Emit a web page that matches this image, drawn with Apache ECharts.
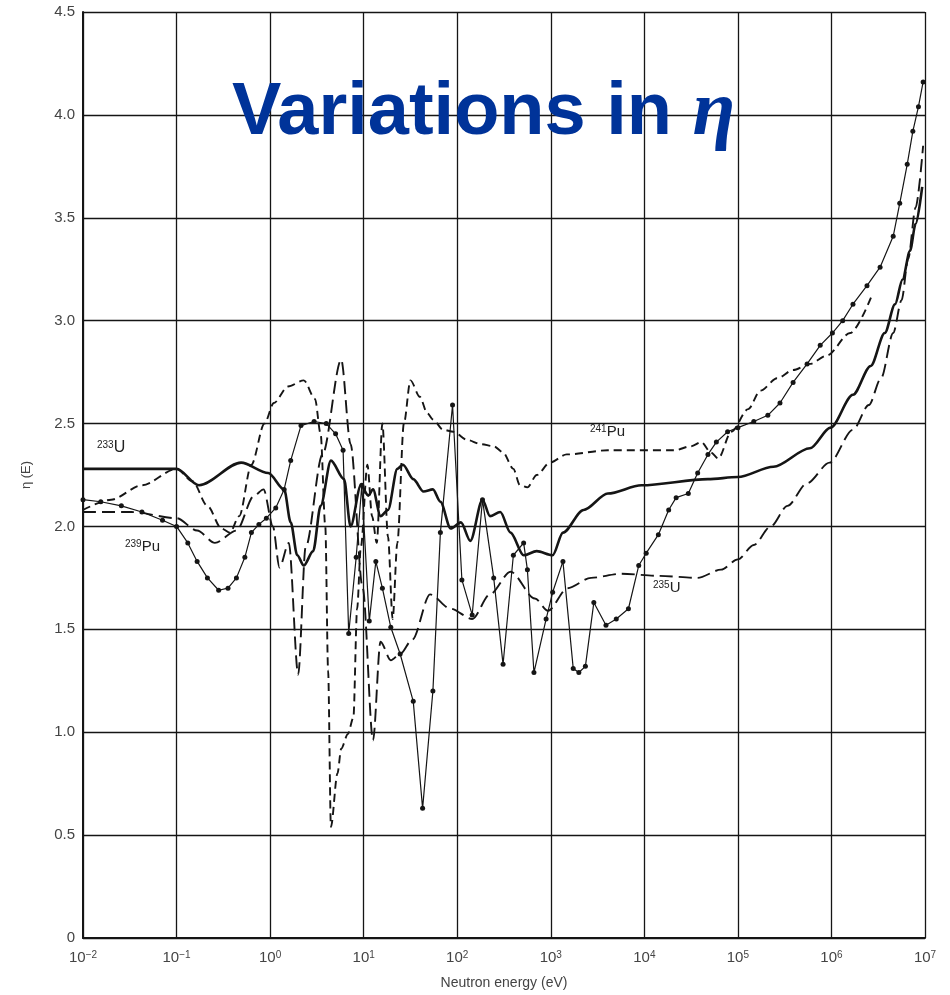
<!DOCTYPE html>
<html>
<head>
<meta charset="utf-8">
<title>Variations in eta</title>
<script src="https://cdn.jsdelivr.net/npm/echarts@6/dist/echarts.min.js"></script>
<style>
    html, body {margin: 0; padding: 0; background: #fff;}
    #eta_chart {width: 950px; height: 995px;}
</style>
</head>
<body>
<div id="eta_chart"></div>
<script>
// [log10(E / eV), eta]
var u233 = [[-2.00, 2.28], [-1.50, 2.28], [-1.00, 2.28], [-0.76, 2.20], [-0.31, 2.31], [-0.02, 2.26], [0.15, 2.18],
    [0.22, 2.02], [0.29, 1.86], [0.36, 1.81], [0.46, 1.88], [0.54, 2.10], [0.65, 2.32], [0.79, 2.23], [0.86, 2.00],
    [0.97, 2.20], [1.05, 2.15], [1.10, 2.18], [1.18, 2.05], [1.26, 2.08], [1.36, 2.28], [1.42, 2.30], [1.53, 2.23],
    [1.64, 2.17], [1.74, 2.18], [1.82, 2.12], [1.93, 1.99], [2.04, 2.02], [2.14, 1.93], [2.27, 2.13], [2.35, 2.05],
    [2.46, 2.07], [2.57, 1.97], [2.71, 1.86], [2.85, 1.88], [3.02, 1.86], [3.13, 1.97], [3.35, 2.08], [3.61, 2.16],
    [3.97, 2.20], [4.68, 2.23], [5.00, 2.24], [5.38, 2.29], [5.77, 2.38], [5.99, 2.48], [6.23, 2.64], [6.42, 2.78],
    [6.57, 2.94], [6.68, 3.08], [6.76, 3.20], [6.84, 3.34], [6.90, 3.47], [6.97, 3.65]];
var u235 = [[-2.00, 2.07], [-1.48, 2.07], [-1.00, 2.04], [-0.78, 1.98], [-0.59, 1.92], [-0.36, 1.98], [-0.17, 2.15],
    [-0.07, 2.18], [0.03, 2.00], [0.10, 1.80], [0.20, 1.92], [0.30, 1.28], [0.38, 1.90], [0.56, 2.35], [0.76, 2.81],
    [0.86, 2.40], [0.99, 1.70], [1.10, 0.96], [1.18, 1.44], [1.29, 1.35], [1.39, 1.38], [1.52, 1.45], [1.71, 1.67],
    [1.93, 1.60], [2.16, 1.55], [2.35, 1.67], [2.57, 1.78], [2.83, 1.65], [2.97, 1.59], [3.18, 1.70], [3.43, 1.75],
    [3.75, 1.77], [4.15, 1.76], [4.57, 1.75], [4.82, 1.79], [5.00, 1.84], [5.17, 1.91], [5.35, 2.00], [5.53, 2.10],
    [5.74, 2.21], [5.98, 2.31], [6.23, 2.47], [6.40, 2.59], [6.53, 2.72], [6.66, 2.94], [6.75, 3.10], [6.82, 3.30],
    [6.90, 3.55], [6.98, 3.85]];
var pu239 = [[-2.00, 2.13], [-1.81, 2.12], [-1.59, 2.10], [-1.37, 2.07], [-1.15, 2.03], [-1.00, 2.00], [-0.88, 1.92],
    [-0.78, 1.83], [-0.67, 1.75], [-0.55, 1.69], [-0.45, 1.70], [-0.36, 1.75], [-0.27, 1.85], [-0.20, 1.97],
    [-0.12, 2.01], [-0.04, 2.04], [0.06, 2.09], [0.15, 2.18], [0.22, 2.32], [0.33, 2.49], [0.47, 2.51], [0.60, 2.50],
    [0.70, 2.45], [0.78, 2.37], [0.84, 1.48], [0.92, 1.85], [0.98, 2.20], [1.06, 1.54], [1.13, 1.83], [1.20, 1.70],
    [1.29, 1.51], [1.39, 1.38], [1.53, 1.15], [1.63, 0.63], [1.74, 1.20], [1.82, 1.97], [1.95, 2.59], [2.05, 1.74],
    [2.16, 1.57], [2.27, 2.13], [2.39, 1.75], [2.49, 1.33], [2.60, 1.86], [2.71, 1.92], [2.75, 1.79], [2.82, 1.29],
    [2.95, 1.55], [3.02, 1.68], [3.13, 1.83], [3.24, 1.31], [3.30, 1.29], [3.37, 1.32], [3.46, 1.63], [3.59, 1.52],
    [3.70, 1.55], [3.83, 1.60], [3.94, 1.81], [4.02, 1.87], [4.15, 1.96], [4.26, 2.08], [4.34, 2.14], [4.47, 2.16],
    [4.57, 2.26], [4.68, 2.35], [4.77, 2.41], [4.89, 2.46], [5.00, 2.48], [5.17, 2.51], [5.32, 2.54], [5.45, 2.60],
    [5.59, 2.70], [5.74, 2.79], [5.88, 2.88], [6.01, 2.94], [6.12, 3.00], [6.23, 3.08], [6.38, 3.17], [6.52, 3.26],
    [6.66, 3.41], [6.73, 3.57], [6.81, 3.76], [6.87, 3.92], [6.93, 4.04], [6.98, 4.16]];
var pu241 = [[-2.00, 2.08], [-1.70, 2.13], [-1.37, 2.20], [-1.00, 2.28], [-0.83, 2.22], [-0.67, 2.10], [-0.52, 1.99],
    [-0.43, 1.97], [-0.33, 2.05], [-0.20, 2.30], [-0.06, 2.50], [0.04, 2.60], [0.19, 2.68], [0.36, 2.71], [0.48, 2.62],
    [0.54, 2.45], [0.59, 2.00], [0.62, 1.30], [0.65, 0.54], [0.72, 0.80], [0.76, 0.92], [0.83, 0.99], [0.89, 1.07],
    [0.93, 1.60], [0.97, 1.90], [1.04, 2.30], [1.09, 2.05], [1.14, 1.92], [1.20, 2.50], [1.26, 1.95], [1.31, 1.55],
    [1.36, 1.92], [1.43, 2.50], [1.50, 2.71], [1.60, 2.63], [1.68, 2.55], [1.74, 2.52], [1.85, 2.47], [1.96, 2.46],
    [2.11, 2.42], [2.25, 2.40], [2.39, 2.39], [2.49, 2.36], [2.60, 2.28], [2.67, 2.20], [2.75, 2.19], [2.85, 2.25],
    [2.99, 2.31], [3.17, 2.35], [3.61, 2.37], [4.32, 2.37], [4.50, 2.39], [4.61, 2.41], [4.71, 2.36], [4.79, 2.33],
    [4.93, 2.46], [5.11, 2.57], [5.24, 2.66], [5.42, 2.72], [5.59, 2.76], [5.77, 2.79], [5.95, 2.83], [6.20, 2.94],
    [6.43, 3.12]];

function toEnergy(rows) {
    return rows.map(function (r) {
        return [Math.pow(10, r[0]), r[1]];
    });
}

function supLabel(mass, sym) {
    return '{s|' + mass + '}{m|' + sym + '}';
}

var myChart = echarts.init(document.getElementById('eta_chart'));
var ink = '#151515';
var tickColor = '#444';
var option = {
    backgroundColor: '#fff',
    animation: false,
    title: {
        text: '{a|Variations in }{b|η}',
        left: 227,
        top: 64,
        textStyle: {
            rich: {
                a: {fontFamily: 'Liberation Sans', fontWeight: 'bold', fontSize: 74, color: '#003399', lineHeight: 90},
                b: {fontFamily: 'Liberation Serif', fontStyle: 'italic', fontSize: 78, color: '#003399', lineHeight: 90}
            }
        }
    },
    grid: {left: 83, right: 25, top: 12, bottom: 57, containLabel: false, outerBoundsMode: 'none'},
    xAxis: {
        type: 'log', logBase: 10, min: 0.01, max: 1e7, splitNumber: 9,
        name: 'Neutron energy (eV)', nameLocation: 'middle', nameGap: 38,
        nameTextStyle: {fontFamily: 'Liberation Sans', fontSize: 14, color: tickColor},
        axisLine: {show: true, lineStyle: {color: ink, width: 2}},
        axisTick: {show: false},
        minorTick: {show: false},
        splitLine: {show: true, lineStyle: {color: ink, width: 1.3}},
        axisLabel: {
            margin: 12, color: tickColor, fontFamily: 'Liberation Sans', fontSize: 15,
            formatter: function (v) {
                var e = Math.round(Math.log10(v));
                return '10{s|' + (e < 0 ? '−' + (-e) : e) + '}';
            },
            rich: {s: {fontSize: 10, verticalAlign: 'top', color: tickColor, padding: [0, 0, 6, 0]}}
        }
    },
    yAxis: {
        type: 'value', min: 0, max: 4.5, interval: 0.5,
        name: 'η (E)', nameLocation: 'middle', nameGap: 50,
        nameTextStyle: {fontFamily: 'Liberation Sans', fontSize: 13, color: tickColor},
        axisLine: {show: true, lineStyle: {color: ink, width: 2}},
        axisTick: {show: false},
        splitLine: {show: true, lineStyle: {color: ink, width: 1.3}},
        axisLabel: {
            margin: 8, color: tickColor, fontFamily: 'Liberation Sans', fontSize: 15,
            formatter: function (v) {
                return v === 0 ? '0' : v.toFixed(1);
            }
        }
    },
    graphic: [
        {type: 'text', left: 97, top: 440, style: {text: supLabel('233', 'U'), rich: {s: {fontSize: 10, fill: '#222', verticalAlign: 'top'}, m: {fontSize: 16, fill: '#222'}}, fontFamily: 'Liberation Sans'}},
        {type: 'text', left: 125, top: 539, style: {text: supLabel('239', 'Pu'), rich: {s: {fontSize: 10, fill: '#222', verticalAlign: 'top'}, m: {fontSize: 15, fill: '#222'}}, fontFamily: 'Liberation Sans'}},
        {type: 'text', left: 590, top: 424, style: {text: supLabel('241', 'Pu'), rich: {s: {fontSize: 10, fill: '#222', verticalAlign: 'top'}, m: {fontSize: 15, fill: '#222'}}, fontFamily: 'Liberation Sans'}},
        {type: 'text', left: 653, top: 580, style: {text: supLabel('235', 'U'), rich: {s: {fontSize: 10, fill: '#222', verticalAlign: 'top'}, m: {fontSize: 15, fill: '#222'}}, fontFamily: 'Liberation Sans'}}
    ],
    series: [
        {
            name: '233U', type: 'line', data: toEnergy(u233), smooth: 0.3, smoothMonotone: 'x',
            showSymbol: false, lineStyle: {color: ink, width: 2.6}
        },
        {
            name: '235U', type: 'line', data: toEnergy(u235), smooth: 0.3, smoothMonotone: 'x',
            showSymbol: false, lineStyle: {color: ink, width: 1.9, type: [13, 6]}
        },
        {
            name: '241Pu', type: 'line', data: toEnergy(pu241), smooth: 0.3, smoothMonotone: 'x',
            showSymbol: false, lineStyle: {color: ink, width: 1.9, type: [8, 5]}
        },
        {
            name: '239Pu', type: 'line', data: toEnergy(pu239), smooth: false,
            symbol: 'circle', symbolSize: 5, showSymbol: true,
            itemStyle: {color: ink}, lineStyle: {color: ink, width: 1.2}
        }
    ]
};
myChart.setOption(option);
</script>
</body>
</html>
